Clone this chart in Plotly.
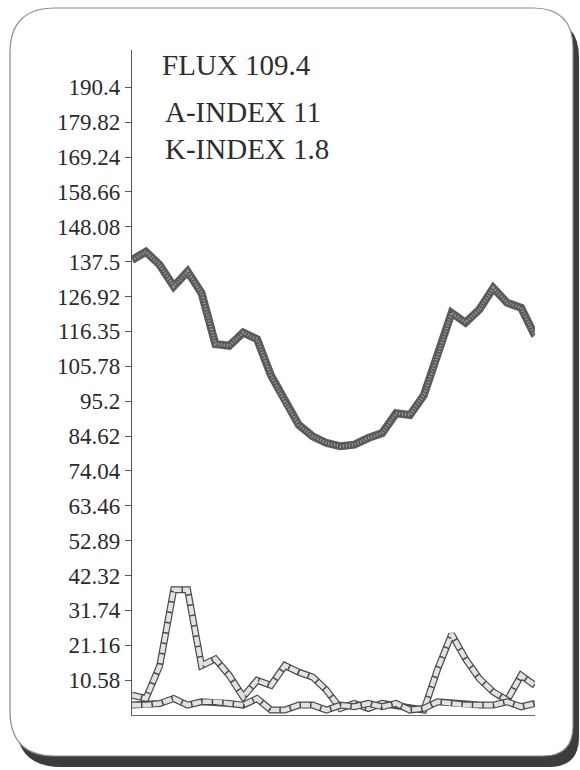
import plotly.graph_objects as go

# ---------------- data ----------------
days = list(range(1, 31))
flux = [138, 140.5, 136.5, 130, 134.5, 128, 112.5, 112, 116, 114,
        103, 95, 88, 84.5, 82.5, 81.5, 82, 84, 85.5, 91.5,
        91, 97, 109, 122, 119, 123, 129.5, 125, 123.5, 115]
a_index = [6, 5, 15, 38, 38, 15, 17, 12, 5.5, 10.5,
           9, 15, 13, 11.5, 7.5, 2, 3.5, 2, 3.5, 3,
           2, 1.5, 14, 24.5, 17, 11, 7, 4.5, 12, 9]
k_index = [3, 3, 3.5, 5, 3, 4, 4, 3.5, 3, 5,
           1.5, 1.5, 3, 3, 1.5, 3, 2.5, 3.5, 2.5, 3.5,
           1.5, 2, 4, 3.5, 3, 3, 3, 4, 2.5, 3.5]
tick_values = [10.58, 21.16, 31.74, 42.32, 52.89, 63.46, 74.04, 84.62, 95.2,
               105.78, 116.35, 126.92, 137.5, 148.08, 158.66, 169.24, 179.82, 190.4]
tick_labels = ["10.58", "21.16", "31.74", "42.32", "52.89", "63.46", "74.04", "84.62", "95.2",
               "105.78", "116.35", "126.92", "137.5", "148.08", "158.66", "169.24", "179.82", "190.4"]
info_lines = ["FLUX 109.4", "A-INDEX 11", "K-INDEX 1.8"]

# ---------------- layout geometry (pixels) ----------------
W, H = 580, 770
L, R, T, B = 132, 45, 50, 55
PW, PH = W - L - R, H - T - B


def px(x):
    return (x - L) / PW


def py(y):
    return (H - B - y) / PH


def card_path(x0, y0, x1, y1, rtl, rtr, rbr, rbl):
    p = []
    p.append(f"M {px(x0 + rtl)} {py(y0)}")
    p.append(f"L {px(x1 - rtr)} {py(y0)}")
    p.append(f"Q {px(x1)} {py(y0)} {px(x1)} {py(y0 + rtr)}")
    p.append(f"L {px(x1)} {py(y1 - rbr)}")
    p.append(f"Q {px(x1)} {py(y1)} {px(x1 - rbr)} {py(y1)}")
    p.append(f"L {px(x0 + rbl)} {py(y1)}")
    p.append(f"Q {px(x0)} {py(y1)} {px(x0)} {py(y1 - rbl)}")
    p.append(f"L {px(x0)} {py(y0 + rtl)}")
    p.append(f"Q {px(x0)} {py(y0)} {px(x0 + rtl)} {py(y0)}")
    p.append("Z")
    return " ".join(p)


fig = go.Figure()

# flux: thick dark stippled line
fig.add_trace(go.Scatter(x=days, y=flux, mode="lines",
                         line=dict(color="#5a5a5a", width=8), hoverinfo="skip"))
fig.add_trace(go.Scatter(x=days, y=flux, mode="lines",
                         line=dict(color="#a2a2a2", width=3, dash="1px,2px"), hoverinfo="skip"))

# A- and K-index: outlined light bands with dark cross bars
for series in (a_index, k_index):
    fig.add_trace(go.Scatter(x=days, y=series, mode="lines",
                             line=dict(color="#4a4a4a", width=7), hoverinfo="skip"))
    fig.add_trace(go.Scatter(x=days, y=series, mode="lines",
                             line=dict(color="#e2e2e2", width=4.6, dash="9px,1.5px"), hoverinfo="skip"))

shapes = [
    dict(type="path", xref="paper", yref="paper", layer="below",
         path=card_path(16, 18, 579, 767, 45, 40, 30, 45),
         fillcolor="#3c3c3c", line=dict(width=0)),
    dict(type="path", xref="paper", yref="paper", layer="below",
         path=card_path(10, 8, 573, 756, 45, 40, 30, 45),
         fillcolor="#ffffff", line=dict(color="#8c8c8c", width=1.2)),
]

annotations = []
for text, yc, xl in zip(info_lines, [65, 112, 149], [160, 163, 163]):
    annotations.append(dict(text=text, xref="paper", yref="paper",
                            x=px(xl), y=py(yc), xanchor="left", yanchor="middle",
                            showarrow=False,
                            font=dict(family="Liberation Serif", size=29, color="#2e2e2e")))

fig.update_layout(
    width=W, height=H, autosize=False,
    margin=dict(l=L, r=R, t=T, b=B, pad=0),
    paper_bgcolor="white", plot_bgcolor="rgba(0,0,0,0)",
    showlegend=False,
    shapes=shapes, annotations=annotations,
    xaxis=dict(range=[1, 30], showgrid=False, zeroline=False, showticklabels=False,
               ticks="", showline=True, linecolor="#6a6a6a", linewidth=1.2),
    yaxis=dict(range=[0, 201.7], tickmode="array", tickvals=tick_values, ticktext=tick_labels,
               ticks="outside", ticklen=6, tickwidth=1, tickcolor="#555",
               showline=True, linecolor="#555", linewidth=1.2,
               showgrid=False, zeroline=False,
               tickfont=dict(family="Liberation Serif", size=23, color="#2a2a2a")),
)

fig.write_html("out.html", config={"displayModeBar": False},
               post_script="document.body.style.margin='0';")
